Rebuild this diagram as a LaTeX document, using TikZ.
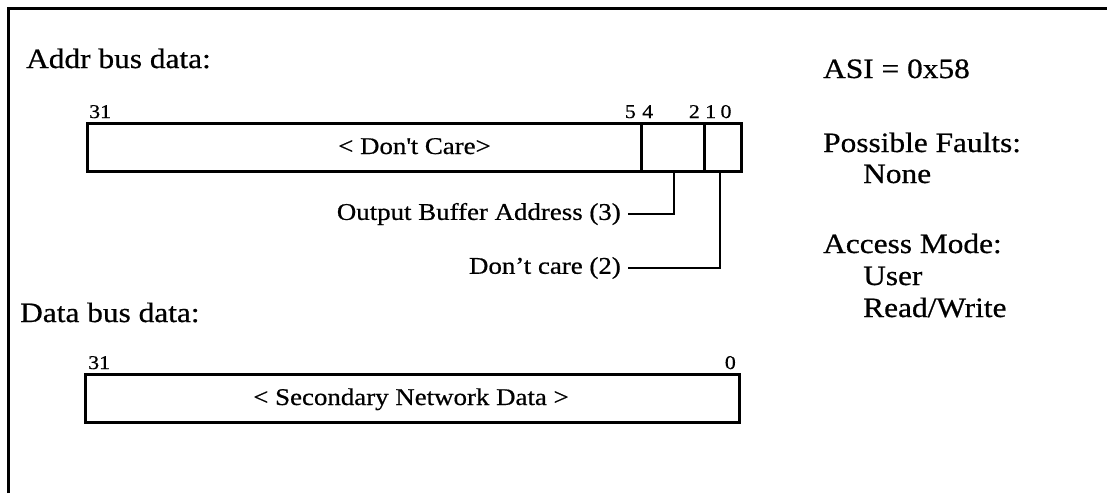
\documentclass[tikz,border=0pt]{standalone}
\usepackage{fontspec}
\setmainfont{Liberation Serif}[FakeStretch=1.12,FakeBold=0.6]
\begin{document}
\begin{tikzpicture}[x=1pt,y=-1pt,
  big/.style={font=\fontsize{28}{32}\selectfont, inner sep=0pt},
  small/.style={font=\fontsize{24}{28}\selectfont, inner sep=0pt},
  bit/.style={font=\fontsize{19.5}{22}\selectfont, inner sep=0pt},
  field/.style={draw, line width=2.8pt, minimum height=48pt, inner sep=0pt},
  leader/.style={line width=2.6pt},
  frame/.style={line width=3pt}]
\useasboundingbox (0,0) rectangle (1107,493);
% frame
\coordinate (fbl) at (8,493);
\coordinate (ftl) at (8,8);
\coordinate (ftr) at (1107,8);
\draw[frame] (fbl) -- (ftl) -- (ftr);
% headings
\node[big, anchor=base west] (addr) at (26,68) {Addr bus data:};
\node[big, anchor=base west] (data) at (20,322) {Data bus data:};
\node[big, anchor=base west] (asi) at (823,78) {ASI = 0x58};
\node[big, anchor=base west] (pf) at (823,152) {Possible Faults:};
\node[big, anchor=base west] (none) at (863,183) {None};
\node[big, anchor=base west] (am) at (823,253) {Access Mode:};
\node[big, anchor=base west] (user) at (863,285) {User};
\node[big, anchor=base west] (rw) at (863,317) {Read/Write};
% address fields
\node[field, minimum width=554pt, anchor=north west] (f31) at (86,122) {};
\node[field, minimum width=63pt, anchor=north west] (f4) at (640,122) {};
\node[field, minimum width=37pt, anchor=north west] (f1) at (703,122) {};
\node[small, anchor=base west] (dc) at (338,154) {< Don\textquotesingle t Care>};
% address bit numbers
\node[bit, anchor=base west] (b31) at (89,118) {31};
\node[bit, anchor=base east] (b5) at (636,118) {5};
\node[bit, anchor=base west] (b4) at (642,118) {4};
\node[bit, anchor=base east] (b2) at (700,118) {2};
\node[bit, anchor=base west] (b1) at (705,118) {1};
\node[bit, anchor=base] (b0) at (726,118) {0};
% leaders
\node[small, anchor=east] (oba) at (621,214) {Output Buffer Address (3)};
\node[small, anchor=east] (dc2) at (621,268) {Don’t care (2)};
\coordinate (l1) at (674,214);
\coordinate (l2) at (720,268);
\draw[leader] (oba.east) ++(7,0) -- (l1) -- (l1 |- f4.south);
\draw[leader] (dc2.east) ++(7,0) -- (l2) -- (l2 |- f1.south);
% data field
\node[field, minimum width=654pt, anchor=north west] (fd) at (84,373) {};
\node[small, anchor=base] (snd) at (411,405) {< Secondary Network Data >};
\node[bit, anchor=base west] (d31) at (88,369) {31};
\node[bit, anchor=base east] (d0) at (736,369) {0};
\end{tikzpicture}
\end{document}
